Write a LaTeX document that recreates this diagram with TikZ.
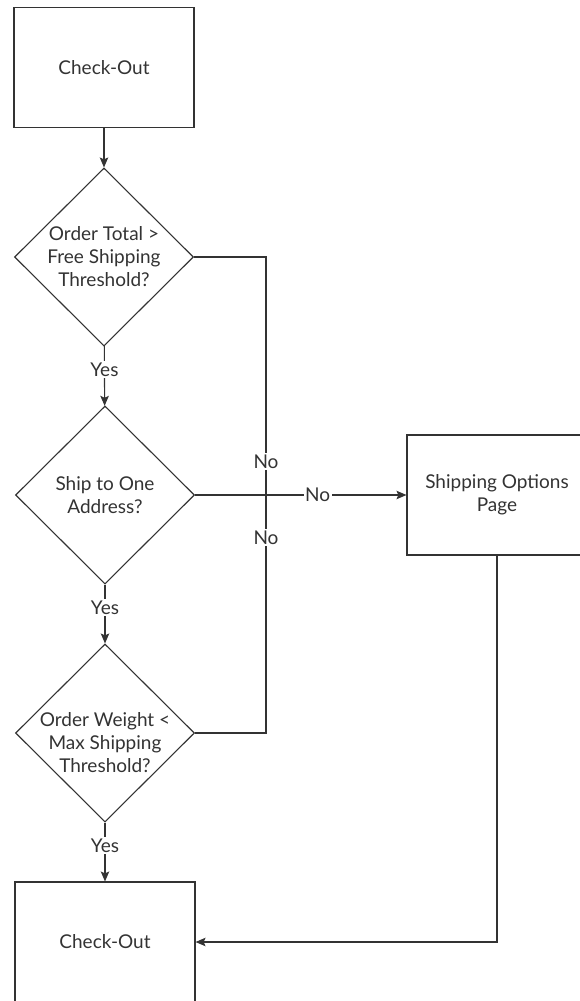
\documentclass[tikz,border=0pt]{standalone}
\usepackage{fontspec}
\setmainfont{Lato}
\usetikzlibrary{shapes.geometric,arrows.meta}
\definecolor{ink}{HTML}{333333}
\begin{document}
\begin{tikzpicture}[x=1pt,y=-1pt,
  every node/.style={font=\fontsize{19}{23}\selectfont, text=ink},
  flowbox/.style={draw=ink, line width=1.1pt, minimum width=180pt, minimum height=120pt, align=center},
  decision/.style={draw=ink, line width=1.1pt, diamond, minimum width=179pt, minimum height=178pt, inner sep=-8pt, align=center},
  flowline/.style={draw=ink, line width=1.1pt},
  flowarrow/.style={flowline, -{Stealth[length=10pt,width=8.5pt,inset=2pt]}},
  answer/.style={fill=white, inner sep=1.5pt}]
  \useasboundingbox (0,0) rectangle (580,1001);
  \node[flowbox] (start) at (104,67.5) {Check-Out};
  \node[decision] (total) at (104,257) {Order Total >\\Free Shipping\\Threshold?};
  \node[decision] (single) at (105,495) {Ship to One\\Address?};
  \node[decision, label={[align=center, yshift=-10pt]center:Order Weight <\\Max Shipping\\Threshold?}] (weight) at (105,733) {};
  \node[flowbox] (options) at (497,495) {Shipping Options\\Page};
  \node[flowbox] (finish) at (105,942) {Check-Out};
  \coordinate (merge) at (266,495);
  \draw[flowarrow] (start) -- (total);
  \draw[flowarrow] (total) -- node[answer,pos=0.39] {Yes} (single);
  \draw[flowarrow] (single) -- node[answer,pos=0.39] {Yes} (weight);
  \draw[flowarrow] (weight) -- node[answer,pos=0.39] {Yes} (finish);
  \draw[flowline] (total) -| node[answer,pos=0.93] {No} (merge);
  \draw[flowline] (weight) -| node[answer,pos=0.91] {No} (merge);
  \draw[flowarrow] (single) -- node[answer,pos=0.58] {No} (options);
  \draw[flowarrow] (options) |- (finish);
\end{tikzpicture}
\end{document}
